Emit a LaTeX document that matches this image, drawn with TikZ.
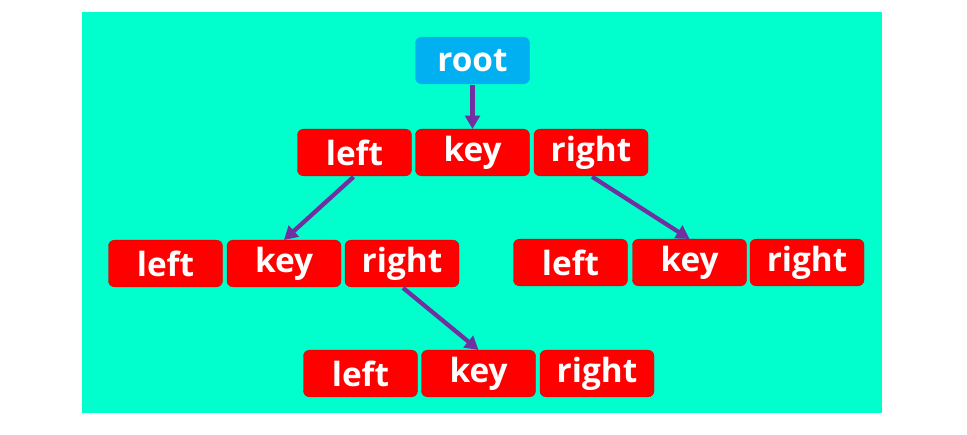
\documentclass[tikz,border=0pt]{standalone}
\usepackage{fontspec}
\setmainfont{Open Sans}
\usepackage{tikz}
\usetikzlibrary{arrows.meta,positioning}

\definecolor{bgteal}{HTML}{00FFCC}
\definecolor{rootblue}{HTML}{00B0F0}
\definecolor{cellred}{HTML}{FF0000}
\definecolor{linkpurple}{HTML}{7030A0}

\tikzset{
  cell/.style={rectangle, rounded corners=4.5pt, fill=cellred, draw=cellred!85!black, line width=0.3pt,
    text=white, font=\fontsize{25}{28}\selectfont\bfseries,
    minimum width=85.5pt, minimum height=35pt, inner sep=0pt},
  rootcell/.style={cell, fill=rootblue, draw=rootblue},
  link/.style={-{Triangle[length=10pt,width=11pt]}, line width=3.2pt, draw=linkpurple, shorten <=1pt}
}

\begin{document}
\begin{tikzpicture}[x=0.75pt, y=-0.75pt]
   \useasboundingbox (0,0) rectangle (967,435);
   \fill[bgteal] (82,12) rectangle (882,413);

   \node[rootcell] (root) at (472.5,60.5) {root};

   %top node
   \node[cell] (lft1) at (354.5,152.5) {left};
   \node[cell] (key1) at (472.5,152.5) {key};
   \node[cell] (rgt1) at (591,152.5) {right};

   %left child
   \node[cell] (lft2) at (165.5,263.5) {left};
   \node[cell] (key2) at (284,263.5) {key};
   \node[cell] (rgt2) at (402,263.5) {right};

   %right child
   \node[cell] (lft3) at (570.5,262.5) {left};
   \node[cell] (key3) at (689.5,262.5) {key};
   \node[cell] (rgt3) at (807,262.5) {right};

   %child of left child
   \node[cell] (lft4) at (360.5,373.5) {left};
   \node[cell] (key4) at (478.5,373.5) {key};
   \node[cell] (rgt4) at (597,373.5) {right};

  \path
    (root) edge[link] (key1)
    (lft1.south) edge[link] (key2.north)
    (rgt1.south) edge[link] (key3.north)
    (rgt2.south) edge[link] (key4.north);
\end{tikzpicture}
\end{document}
